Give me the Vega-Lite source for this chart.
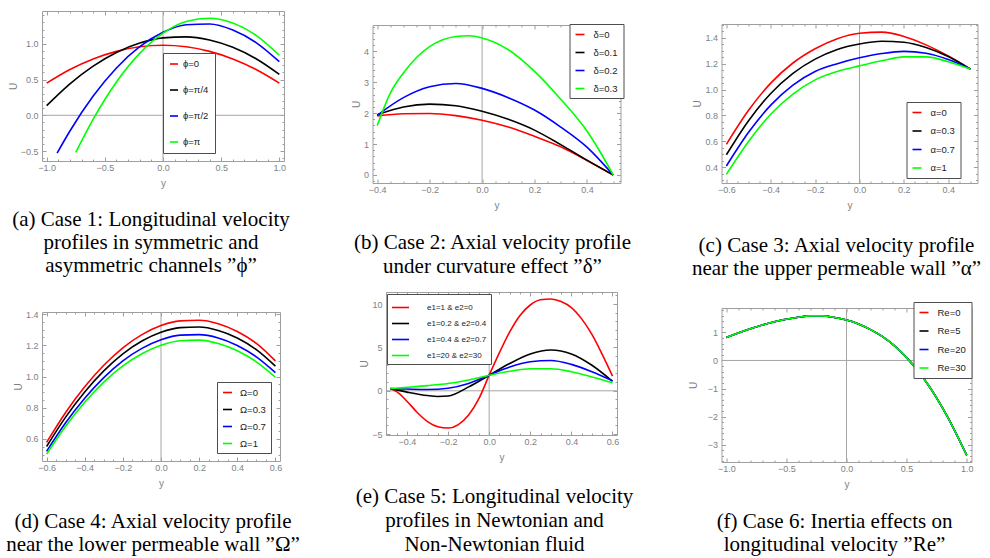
{
"$schema": "https://vega.github.io/schema/vega-lite/v6.json",
"background": "white",
"padding": {"left": 5, "top": 10, "right": 0, "bottom": 0},
"config": {
 "view": {"stroke": "#9e9e9e", "strokeWidth": 1},
 "axis": {"domain": false, "grid": false, "tickColor": "#9e9e9e", "tickWidth": 1, "labelFont": "Liberation Sans", "labelFontSize": 9, "labelColor": "#7f7f7f", "titleFont": "Liberation Sans", "titleFontSize": 10, "titleFontWeight": "normal", "titleColor": "#7f7f7f", "labelFlush": false, "labelOverlap": false, "labelBound": false},
 "axisBottom": {"labelPadding": 6, "titlePadding": 6},
 "axisLeft": {"labelPadding": 8, "titlePadding": 2},
 "legend": {"title": null, "symbolType": "stroke", "symbolStrokeWidth": 2, "strokeColor": "#4d4d4d", "fillColor": "#ffffff", "labelFont": "Liberation Sans", "labelFontSize": 9.5, "labelColor": "#222222", "orient": "none"},
 "title": {"font": "Liberation Serif", "fontSize": 21, "fontWeight": "normal", "color": "#000000", "lineHeight": 24, "orient": "bottom", "anchor": "middle", "frame": "group"},
 "line": {"strokeWidth": 1.6, "interpolate": "monotone"}
},
"datasets": {
 "a": [
  {"s":"ϕ=0","y":-1,"U":0.45},{"s":"ϕ=0","y":-0.8,"U":0.641},{"s":"ϕ=0","y":-0.6,"U":0.789},{"s":"ϕ=0","y":-0.4,"U":0.895},{"s":"ϕ=0","y":-0.2,"U":0.959},{"s":"ϕ=0","y":0,"U":0.98},{"s":"ϕ=0","y":0.2,"U":0.959},{"s":"ϕ=0","y":0.4,"U":0.895},{"s":"ϕ=0","y":0.6,"U":0.789},{"s":"ϕ=0","y":0.8,"U":0.641},{"s":"ϕ=0","y":1,"U":0.45},
  {"s":"ϕ=π/4","y":-1,"U":0.135},{"s":"ϕ=π/4","y":-0.8,"U":0.441},{"s":"ϕ=π/4","y":-0.6,"U":0.689},{"s":"ϕ=π/4","y":-0.4,"U":0.879},{"s":"ϕ=π/4","y":-0.2,"U":1.011},{"s":"ϕ=π/4","y":0,"U":1.084},{"s":"ϕ=π/4","y":0.2,"U":1.098},{"s":"ϕ=π/4","y":0.4,"U":1.054},{"s":"ϕ=π/4","y":0.6,"U":0.952},{"s":"ϕ=π/4","y":0.8,"U":0.792},{"s":"ϕ=π/4","y":1,"U":0.573},
  {"s":"ϕ=π/2","y":-0.91,"U":-0.53},{"s":"ϕ=π/2","y":-0.8,"U":-0.22},{"s":"ϕ=π/2","y":-0.6,"U":0.269},{"s":"ϕ=π/2","y":-0.4,"U":0.663},{"s":"ϕ=π/2","y":-0.2,"U":0.961},{"s":"ϕ=π/2","y":0,"U":1.162},{"s":"ϕ=π/2","y":0.2,"U":1.268},{"s":"ϕ=π/2","y":0.4,"U":1.278},{"s":"ϕ=π/2","y":0.6,"U":1.194},{"s":"ϕ=π/2","y":0.8,"U":1.018},{"s":"ϕ=π/2","y":1,"U":0.75},
  {"s":"ϕ=π","y":-0.75,"U":-0.52},{"s":"ϕ=π","y":-0.6,"U":-0.053},{"s":"ϕ=π","y":-0.4,"U":0.467},{"s":"ϕ=π","y":-0.2,"U":0.867},{"s":"ϕ=π","y":0,"U":1.15},{"s":"ϕ=π","y":0.2,"U":1.314},{"s":"ϕ=π","y":0.4,"U":1.359},{"s":"ϕ=π","y":0.6,"U":1.293},{"s":"ϕ=π","y":0.8,"U":1.12},{"s":"ϕ=π","y":1,"U":0.84}
 ],
 "b": [
  {"s":"δ=0","y":-0.4,"U":1.91},{"s":"δ=0","y":-0.3,"U":1.98},{"s":"δ=0","y":-0.2,"U":1.99},{"s":"δ=0","y":-0.1,"U":1.92},{"s":"δ=0","y":0,"U":1.77},{"s":"δ=0","y":0.1,"U":1.55},{"s":"δ=0","y":0.2,"U":1.25},{"s":"δ=0","y":0.3,"U":0.91},{"s":"δ=0","y":0.4,"U":0.47},{"s":"δ=0","y":0.5,"U":0},
  {"s":"δ=0.1","y":-0.4,"U":1.95},{"s":"δ=0.1","y":-0.3,"U":2.2},{"s":"δ=0.1","y":-0.2,"U":2.29},{"s":"δ=0.1","y":-0.1,"U":2.24},{"s":"δ=0.1","y":0,"U":2.06},{"s":"δ=0.1","y":0.1,"U":1.8},{"s":"δ=0.1","y":0.2,"U":1.45},{"s":"δ=0.1","y":0.3,"U":0.98},{"s":"δ=0.1","y":0.4,"U":0.48},{"s":"δ=0.1","y":0.5,"U":0},
  {"s":"δ=0.2","y":-0.4,"U":1.93},{"s":"δ=0.2","y":-0.3,"U":2.5},{"s":"δ=0.2","y":-0.2,"U":2.85},{"s":"δ=0.2","y":-0.1,"U":2.96},{"s":"δ=0.2","y":0,"U":2.8},{"s":"δ=0.2","y":0.1,"U":2.5},{"s":"δ=0.2","y":0.2,"U":2.1},{"s":"δ=0.2","y":0.3,"U":1.55},{"s":"δ=0.2","y":0.4,"U":0.9},{"s":"δ=0.2","y":0.5,"U":0},
  {"s":"δ=0.3","y":-0.4,"U":1.6},{"s":"δ=0.3","y":-0.35,"U":2.65},{"s":"δ=0.3","y":-0.3,"U":3.3},{"s":"δ=0.3","y":-0.25,"U":3.8},{"s":"δ=0.3","y":-0.2,"U":4.15},{"s":"δ=0.3","y":-0.15,"U":4.37},{"s":"δ=0.3","y":-0.1,"U":4.48},{"s":"δ=0.3","y":-0.05,"U":4.5},{"s":"δ=0.3","y":0,"U":4.43},{"s":"δ=0.3","y":0.1,"U":4.05},{"s":"δ=0.3","y":0.2,"U":3.35},{"s":"δ=0.3","y":0.3,"U":2.45},{"s":"δ=0.3","y":0.4,"U":1.42},{"s":"δ=0.3","y":0.45,"U":0.75},{"s":"δ=0.3","y":0.5,"U":0}
 ],
 "c": [
  {"s":"α=0","y":-0.6,"U":0.577},{"s":"α=0","y":-0.5,"U":0.84},{"s":"α=0","y":-0.4,"U":1.05},{"s":"α=0","y":-0.3,"U":1.205},{"s":"α=0","y":-0.2,"U":1.315},{"s":"α=0","y":-0.1,"U":1.393},{"s":"α=0","y":0,"U":1.435},{"s":"α=0","y":0.1,"U":1.443},{"s":"α=0","y":0.2,"U":1.41},{"s":"α=0","y":0.3,"U":1.345},{"s":"α=0","y":0.4,"U":1.26},{"s":"α=0","y":0.5,"U":1.158},
  {"s":"α=0.3","y":-0.6,"U":0.497},{"s":"α=0.3","y":-0.5,"U":0.76},{"s":"α=0.3","y":-0.4,"U":0.97},{"s":"α=0.3","y":-0.3,"U":1.125},{"s":"α=0.3","y":-0.2,"U":1.235},{"s":"α=0.3","y":-0.1,"U":1.31},{"s":"α=0.3","y":0,"U":1.352},{"s":"α=0.3","y":0.1,"U":1.373},{"s":"α=0.3","y":0.2,"U":1.365},{"s":"α=0.3","y":0.3,"U":1.325},{"s":"α=0.3","y":0.4,"U":1.255},{"s":"α=0.3","y":0.5,"U":1.158},
  {"s":"α=0.7","y":-0.6,"U":0.41},{"s":"α=0.7","y":-0.5,"U":0.67},{"s":"α=0.7","y":-0.4,"U":0.88},{"s":"α=0.7","y":-0.3,"U":1.035},{"s":"α=0.7","y":-0.2,"U":1.14},{"s":"α=0.7","y":-0.1,"U":1.2},{"s":"α=0.7","y":0,"U":1.245},{"s":"α=0.7","y":0.1,"U":1.278},{"s":"α=0.7","y":0.2,"U":1.295},{"s":"α=0.7","y":0.3,"U":1.28},{"s":"α=0.7","y":0.4,"U":1.232},{"s":"α=0.7","y":0.5,"U":1.158},
  {"s":"α=1","y":-0.6,"U":0.346},{"s":"α=1","y":-0.5,"U":0.6},{"s":"α=1","y":-0.4,"U":0.81},{"s":"α=1","y":-0.3,"U":0.965},{"s":"α=1","y":-0.2,"U":1.075},{"s":"α=1","y":-0.1,"U":1.14},{"s":"α=1","y":0,"U":1.183},{"s":"α=1","y":0.1,"U":1.222},{"s":"α=1","y":0.2,"U":1.252},{"s":"α=1","y":0.3,"U":1.252},{"s":"α=1","y":0.4,"U":1.215},{"s":"α=1","y":0.5,"U":1.158}
 ],
 "d": [
  {"s":"Ω=0","y":-0.6,"U":0.578},{"s":"Ω=0","y":-0.5,"U":0.77},{"s":"Ω=0","y":-0.4,"U":0.934},{"s":"Ω=0","y":-0.3,"U":1.072},{"s":"Ω=0","y":-0.2,"U":1.184},{"s":"Ω=0","y":-0.1,"U":1.268},{"s":"Ω=0","y":0,"U":1.326},{"s":"Ω=0","y":0.1,"U":1.356},{"s":"Ω=0","y":0.2,"U":1.36},{"s":"Ω=0","y":0.3,"U":1.338},{"s":"Ω=0","y":0.4,"U":1.288},{"s":"Ω=0","y":0.5,"U":1.212},{"s":"Ω=0","y":0.6,"U":1.1},
  {"s":"Ω=0.3","y":-0.6,"U":0.552},{"s":"Ω=0.3","y":-0.5,"U":0.74},{"s":"Ω=0.3","y":-0.4,"U":0.901},{"s":"Ω=0.3","y":-0.3,"U":1.036},{"s":"Ω=0.3","y":-0.2,"U":1.145},{"s":"Ω=0.3","y":-0.1,"U":1.227},{"s":"Ω=0.3","y":0,"U":1.283},{"s":"Ω=0.3","y":0.1,"U":1.313},{"s":"Ω=0.3","y":0.2,"U":1.317},{"s":"Ω=0.3","y":0.3,"U":1.295},{"s":"Ω=0.3","y":0.4,"U":1.247},{"s":"Ω=0.3","y":0.5,"U":1.172},{"s":"Ω=0.3","y":0.6,"U":1.066},
  {"s":"Ω=0.7","y":-0.6,"U":0.521},{"s":"Ω=0.7","y":-0.5,"U":0.704},{"s":"Ω=0.7","y":-0.4,"U":0.861},{"s":"Ω=0.7","y":-0.3,"U":0.993},{"s":"Ω=0.7","y":-0.2,"U":1.1},{"s":"Ω=0.7","y":-0.1,"U":1.18},{"s":"Ω=0.7","y":0,"U":1.235},{"s":"Ω=0.7","y":0.1,"U":1.265},{"s":"Ω=0.7","y":0.2,"U":1.268},{"s":"Ω=0.7","y":0.3,"U":1.247},{"s":"Ω=0.7","y":0.4,"U":1.199},{"s":"Ω=0.7","y":0.5,"U":1.126},{"s":"Ω=0.7","y":0.6,"U":1.025},
  {"s":"Ω=1","y":-0.6,"U":0.503},{"s":"Ω=1","y":-0.5,"U":0.681},{"s":"Ω=1","y":-0.4,"U":0.835},{"s":"Ω=1","y":-0.3,"U":0.964},{"s":"Ω=1","y":-0.2,"U":1.068},{"s":"Ω=1","y":-0.1,"U":1.146},{"s":"Ω=1","y":0,"U":1.2},{"s":"Ω=1","y":0.1,"U":1.229},{"s":"Ω=1","y":0.2,"U":1.233},{"s":"Ω=1","y":0.3,"U":1.211},{"s":"Ω=1","y":0.4,"U":1.165},{"s":"Ω=1","y":0.5,"U":1.094},{"s":"Ω=1","y":0.6,"U":0.995}
 ],
 "e": [
  {"s":"e1=1 & e2=0","y":-0.48,"U":0.25},{"s":"e1=1 & e2=0","y":-0.45,"U":-0.1},{"s":"e1=1 & e2=0","y":-0.4,"U":-1.2},{"s":"e1=1 & e2=0","y":-0.35,"U":-2.5},{"s":"e1=1 & e2=0","y":-0.3,"U":-3.55},{"s":"e1=1 & e2=0","y":-0.25,"U":-4.15},{"s":"e1=1 & e2=0","y":-0.2,"U":-4.3},{"s":"e1=1 & e2=0","y":-0.15,"U":-3.9},{"s":"e1=1 & e2=0","y":-0.1,"U":-2.8},{"s":"e1=1 & e2=0","y":-0.05,"U":-0.9},{"s":"e1=1 & e2=0","y":0,"U":1.8},{"s":"e1=1 & e2=0","y":0.05,"U":4.4},{"s":"e1=1 & e2=0","y":0.1,"U":6.8},{"s":"e1=1 & e2=0","y":0.15,"U":8.7},{"s":"e1=1 & e2=0","y":0.2,"U":9.9},{"s":"e1=1 & e2=0","y":0.25,"U":10.5},{"s":"e1=1 & e2=0","y":0.3,"U":10.6},{"s":"e1=1 & e2=0","y":0.35,"U":10.3},{"s":"e1=1 & e2=0","y":0.4,"U":9.6},{"s":"e1=1 & e2=0","y":0.45,"U":8.3},{"s":"e1=1 & e2=0","y":0.5,"U":6.5},{"s":"e1=1 & e2=0","y":0.55,"U":4.2},{"s":"e1=1 & e2=0","y":0.6,"U":1.7},
  {"s":"e1=0.2 & e2=0.4","y":-0.48,"U":0.25},{"s":"e1=0.2 & e2=0.4","y":-0.4,"U":-0.15},{"s":"e1=0.2 & e2=0.4","y":-0.3,"U":-0.55},{"s":"e1=0.2 & e2=0.4","y":-0.25,"U":-0.65},{"s":"e1=0.2 & e2=0.4","y":-0.2,"U":-0.6},{"s":"e1=0.2 & e2=0.4","y":-0.1,"U":0.45},{"s":"e1=0.2 & e2=0.4","y":0,"U":1.8},{"s":"e1=0.2 & e2=0.4","y":0.1,"U":3.15},{"s":"e1=0.2 & e2=0.4","y":0.2,"U":4.25},{"s":"e1=0.2 & e2=0.4","y":0.3,"U":4.7},{"s":"e1=0.2 & e2=0.4","y":0.4,"U":4.25},{"s":"e1=0.2 & e2=0.4","y":0.5,"U":2.95},{"s":"e1=0.2 & e2=0.4","y":0.6,"U":1.1},
  {"s":"e1=0.4 & e2=0.7","y":-0.48,"U":0.25},{"s":"e1=0.4 & e2=0.7","y":-0.4,"U":0.2},{"s":"e1=0.4 & e2=0.7","y":-0.3,"U":0.15},{"s":"e1=0.4 & e2=0.7","y":-0.2,"U":0.3},{"s":"e1=0.4 & e2=0.7","y":-0.1,"U":0.85},{"s":"e1=0.4 & e2=0.7","y":0,"U":1.8},{"s":"e1=0.4 & e2=0.7","y":0.1,"U":2.75},{"s":"e1=0.4 & e2=0.7","y":0.2,"U":3.35},{"s":"e1=0.4 & e2=0.7","y":0.3,"U":3.5},{"s":"e1=0.4 & e2=0.7","y":0.4,"U":3.05},{"s":"e1=0.4 & e2=0.7","y":0.5,"U":2.2},{"s":"e1=0.4 & e2=0.7","y":0.6,"U":1.15},
  {"s":"e1=20 & e2=30","y":-0.48,"U":0.25},{"s":"e1=20 & e2=30","y":-0.4,"U":0.4},{"s":"e1=20 & e2=30","y":-0.3,"U":0.6},{"s":"e1=20 & e2=30","y":-0.2,"U":0.85},{"s":"e1=20 & e2=30","y":-0.1,"U":1.25},{"s":"e1=20 & e2=30","y":0,"U":1.8},{"s":"e1=20 & e2=30","y":0.1,"U":2.25},{"s":"e1=20 & e2=30","y":0.2,"U":2.55},{"s":"e1=20 & e2=30","y":0.3,"U":2.55},{"s":"e1=20 & e2=30","y":0.4,"U":2.2},{"s":"e1=20 & e2=30","y":0.5,"U":1.6},{"s":"e1=20 & e2=30","y":0.6,"U":0.93}
 ],
 "f": [
  {"s":"Re=0","y":-1,"U":0.82},{"s":"Re=0","y":-0.8,"U":1.13},{"s":"Re=0","y":-0.6,"U":1.38},{"s":"Re=0","y":-0.4,"U":1.54},{"s":"Re=0","y":-0.3,"U":1.59},{"s":"Re=0","y":-0.2,"U":1.59},{"s":"Re=0","y":-0.1,"U":1.53},{"s":"Re=0","y":0,"U":1.44},{"s":"Re=0","y":0.1,"U":1.3},{"s":"Re=0","y":0.2,"U":1.1},{"s":"Re=0","y":0.3,"U":0.85},{"s":"Re=0","y":0.4,"U":0.52},{"s":"Re=0","y":0.5,"U":0.1},{"s":"Re=0","y":0.6,"U":-0.4},{"s":"Re=0","y":0.7,"U":-1.0},{"s":"Re=0","y":0.8,"U":-1.7},{"s":"Re=0","y":0.9,"U":-2.5},{"s":"Re=0","y":1,"U":-3.38},
  {"s":"Re=5","y":-1,"U":0.82},{"s":"Re=5","y":-0.8,"U":1.13},{"s":"Re=5","y":-0.6,"U":1.38},{"s":"Re=5","y":-0.4,"U":1.54},{"s":"Re=5","y":-0.3,"U":1.59},{"s":"Re=5","y":-0.2,"U":1.59},{"s":"Re=5","y":-0.1,"U":1.53},{"s":"Re=5","y":0,"U":1.44},{"s":"Re=5","y":0.1,"U":1.3},{"s":"Re=5","y":0.2,"U":1.1},{"s":"Re=5","y":0.3,"U":0.85},{"s":"Re=5","y":0.4,"U":0.52},{"s":"Re=5","y":0.5,"U":0.1},{"s":"Re=5","y":0.6,"U":-0.4},{"s":"Re=5","y":0.7,"U":-1.0},{"s":"Re=5","y":0.8,"U":-1.7},{"s":"Re=5","y":0.9,"U":-2.5},{"s":"Re=5","y":1,"U":-3.38},
  {"s":"Re=20","y":-1,"U":0.82},{"s":"Re=20","y":-0.8,"U":1.13},{"s":"Re=20","y":-0.6,"U":1.38},{"s":"Re=20","y":-0.4,"U":1.54},{"s":"Re=20","y":-0.3,"U":1.59},{"s":"Re=20","y":-0.2,"U":1.59},{"s":"Re=20","y":-0.1,"U":1.53},{"s":"Re=20","y":0,"U":1.44},{"s":"Re=20","y":0.1,"U":1.3},{"s":"Re=20","y":0.2,"U":1.1},{"s":"Re=20","y":0.3,"U":0.85},{"s":"Re=20","y":0.4,"U":0.52},{"s":"Re=20","y":0.5,"U":0.1},{"s":"Re=20","y":0.6,"U":-0.4},{"s":"Re=20","y":0.7,"U":-1.0},{"s":"Re=20","y":0.8,"U":-1.7},{"s":"Re=20","y":0.9,"U":-2.5},{"s":"Re=20","y":1,"U":-3.38},
  {"s":"Re=30","y":-1,"U":0.82},{"s":"Re=30","y":-0.8,"U":1.13},{"s":"Re=30","y":-0.6,"U":1.38},{"s":"Re=30","y":-0.4,"U":1.54},{"s":"Re=30","y":-0.3,"U":1.59},{"s":"Re=30","y":-0.2,"U":1.59},{"s":"Re=30","y":-0.1,"U":1.53},{"s":"Re=30","y":0,"U":1.44},{"s":"Re=30","y":0.1,"U":1.3},{"s":"Re=30","y":0.2,"U":1.1},{"s":"Re=30","y":0.3,"U":0.85},{"s":"Re=30","y":0.4,"U":0.52},{"s":"Re=30","y":0.5,"U":0.1},{"s":"Re=30","y":0.6,"U":-0.4},{"s":"Re=30","y":0.7,"U":-1.0},{"s":"Re=30","y":0.8,"U":-1.7},{"s":"Re=30","y":0.9,"U":-2.5},{"s":"Re=30","y":1,"U":-3.38}
 ]
},
"resolve": {"scale": {"color": "independent"}, "legend": {"color": "independent"}},
"spacing": 48.5,
"hconcat": [
 {"spacing": 32, "resolve": {"scale": {"color": "independent"}, "legend": {"color": "independent"}}, "vconcat": [
  {"width": 242, "height": 150,
   "title": {"text": ["(a) Case 1: Longitudinal velocity", "profiles in symmetric and", "asymmetric channels \u201dϕ\u201d"], "offset": 21, "dx": -12, "lineHeight": 23},
   "resolve": {"axis": {"x": "independent", "y": "independent"}},
   "layer": [
    {"data": {"values": [{}]}, "mark": {"type": "rule", "color": "#a6a6a6", "strokeWidth": 1},
     "encoding": {
      "x": {"datum": 0, "type": "quantitative", "scale": {"domain": [-1.04, 1.04], "nice": false, "zero": false}, "axis": {"orient": "top", "values": [-1,-0.5,0,0.5,1], "labels": false, "tickSize": -4, "title": null}},
      "y": {"datum": -0.64, "type": "quantitative", "scale": {"domain": [-0.64, 1.46], "nice": false, "zero": false}, "axis": {"orient": "right", "values": [-0.5,0,0.5,1], "labels": false, "tickSize": -4, "title": null}},
      "y2": {"datum": 1.46}}},
    {"data": {"values": [{}]}, "mark": {"type": "rule", "color": "#a6a6a6", "strokeWidth": 1},
     "encoding": {
      "y": {"datum": 0, "type": "quantitative", "scale": {"domain": [-0.64, 1.46], "nice": false, "zero": false}, "axis": {"orient": "left", "values": [-0.6,-0.4,-0.3,-0.2,-0.1,0.1,0.2,0.3,0.4,0.6,0.7,0.8,0.9,1.1,1.2,1.3,1.4], "labels": false, "tickSize": -2, "title": null}},
      "x": {"datum": -1.04, "type": "quantitative", "scale": {"domain": [-1.04, 1.04], "nice": false, "zero": false}, "axis": {"orient": "bottom", "values": [-0.9,-0.8,-0.7,-0.6,-0.4,-0.3,-0.2,-0.1,0.1,0.2,0.3,0.4,0.6,0.7,0.8,0.9], "labels": false, "tickSize": -2, "title": null}},
      "x2": {"datum": 1.04}}},
    {"data": {"values": [{}]}, "mark": {"type": "rule", "strokeOpacity": 0},
     "encoding": {
      "x": {"datum": 0, "type": "quantitative", "scale": {"domain": [-1.04, 1.04], "nice": false, "zero": false}, "axis": {"orient": "top", "values": [-0.9,-0.8,-0.7,-0.6,-0.4,-0.3,-0.2,-0.1,0.1,0.2,0.3,0.4,0.6,0.7,0.8,0.9], "labels": false, "tickSize": -2, "title": null}},
      "y": {"datum": 0, "type": "quantitative", "scale": {"domain": [-0.64, 1.46], "nice": false, "zero": false}, "axis": {"orient": "right", "values": [-0.6,-0.4,-0.3,-0.2,-0.1,0.1,0.2,0.3,0.4,0.6,0.7,0.8,0.9,1.1,1.2,1.3,1.4], "labels": false, "tickSize": -2, "title": null}},
      "y2": {"datum": 1}}},
    {"data": {"name": "a"}, "mark": {"type": "line"},
     "encoding": {
      "x": {"field": "y", "type": "quantitative", "scale": {"domain": [-1.04, 1.04], "nice": false, "zero": false}, "axis": {"orient": "bottom", "values": [-1,-0.5,0,0.5,1], "format": ".1f", "tickSize": -4, "title": "y"}},
      "y": {"field": "U", "type": "quantitative", "scale": {"domain": [-0.64, 1.46], "nice": false, "zero": false}, "axis": {"orient": "left", "values": [-0.5,0,0.5,1], "format": ".1f", "tickSize": -4, "title": "U"}},
      "color": {"field": "s", "type": "nominal", "scale": {"domain": ["ϕ=0","ϕ=π/4","ϕ=π/2","ϕ=π"], "range": ["#ff0000","#000000","#0000ff","#00ff00"]},
       "legend": {"legendX": 121, "legendY": 42, "padding": 6, "rowPadding": 16, "symbolSize": 64, "labelOffset": 4}}}}
   ]},
  {"width": 238, "height": 149,
   "title": {"text": ["(d) Case 4: Axial velocity profile", "near the lower permeable wall \u201dΩ\u201d"], "offset": 23, "dx": -8, "lineHeight": 23},
   "resolve": {"axis": {"x": "independent", "y": "independent"}},
   "layer": [
    {"data": {"values": [{}]}, "mark": {"type": "rule", "color": "#a6a6a6", "strokeWidth": 1},
     "encoding": {
      "x": {"datum": 0, "type": "quantitative", "scale": {"domain": [-0.624, 0.624], "nice": false, "zero": false}, "axis": {"orient": "top", "values": [-0.6,-0.4,-0.2,0,0.2,0.4,0.6], "labels": false, "tickSize": -4, "title": null}},
      "y": {"datum": 0.459, "type": "quantitative", "scale": {"domain": [0.459, 1.413], "nice": false, "zero": false}, "axis": {"orient": "right", "values": [0.6,0.8,1.0,1.2,1.4], "labels": false, "tickSize": -4, "title": null}},
      "y2": {"datum": 1.413}}},
    {"data": {"values": [{}]}, "mark": {"type": "rule", "strokeOpacity": 0},
     "encoding": {
      "y": {"datum": 1, "type": "quantitative", "scale": {"domain": [0.459, 1.413], "nice": false, "zero": false}, "axis": {"orient": "left", "values": [0.5,0.55,0.65,0.7,0.75,0.85,0.9,0.95,1.05,1.1,1.15,1.25,1.3,1.35], "labels": false, "tickSize": -2, "title": null}},
      "x": {"datum": -0.624, "type": "quantitative", "scale": {"domain": [-0.624, 0.624], "nice": false, "zero": false}, "axis": {"orient": "bottom", "values": [-0.55,-0.5,-0.45,-0.35,-0.3,-0.25,-0.15,-0.1,-0.05,0.05,0.1,0.15,0.25,0.3,0.35,0.45,0.5,0.55], "labels": false, "tickSize": -2, "title": null}},
      "x2": {"datum": 0.624}}},
    {"data": {"values": [{}]}, "mark": {"type": "rule", "strokeOpacity": 0},
     "encoding": {
      "x": {"datum": 0, "type": "quantitative", "scale": {"domain": [-0.624, 0.624], "nice": false, "zero": false}, "axis": {"orient": "top", "values": [-0.55,-0.5,-0.45,-0.35,-0.3,-0.25,-0.15,-0.1,-0.05,0.05,0.1,0.15,0.25,0.3,0.35,0.45,0.5,0.55], "labels": false, "tickSize": -2, "title": null}},
      "y": {"datum": 0.6, "type": "quantitative", "scale": {"domain": [0.459, 1.413], "nice": false, "zero": false}, "axis": {"orient": "right", "values": [0.5,0.55,0.65,0.7,0.75,0.85,0.9,0.95,1.05,1.1,1.15,1.25,1.3,1.35], "labels": false, "tickSize": -2, "title": null}},
      "y2": {"datum": 1}}},
    {"data": {"name": "d"}, "mark": {"type": "line"},
     "encoding": {
      "x": {"field": "y", "type": "quantitative", "scale": {"domain": [-0.624, 0.624], "nice": false, "zero": false}, "axis": {"orient": "bottom", "values": [-0.6,-0.4,-0.2,0,0.2,0.4,0.6], "format": ".1f", "tickSize": -4, "title": "y"}},
      "y": {"field": "U", "type": "quantitative", "scale": {"domain": [0.459, 1.413], "nice": false, "zero": false}, "axis": {"orient": "left", "values": [0.6,0.8,1.0,1.2,1.4], "format": ".1f", "tickSize": -4, "title": "U"}},
      "color": {"field": "s", "type": "nominal", "scale": {"domain": ["Ω=0","Ω=0.3","Ω=0.7","Ω=1"], "range": ["#ff0000","#000000","#0000ff","#00ff00"]},
       "legend": {"legendX": 175, "legendY": 70, "padding": 5, "rowPadding": 7, "symbolSize": 81, "labelOffset": 7}}}}
   ]}
 ]},
 {"spacing": 53, "resolve": {"scale": {"color": "independent"}, "legend": {"color": "independent"}}, "hconcat": [
  {"spacing": 13, "resolve": {"scale": {"color": "independent"}, "legend": {"color": "independent"}}, "vconcat": [
   {"spacing": 11, "resolve": {"scale": {"color": "independent"}, "legend": {"color": "independent"}}, "vconcat": [
    {"width": 1, "height": 1, "view": {"stroke": null}, "data": {"values": []}, "mark": {"type": "point", "opacity": 0}},
    {"spacing": 0, "resolve": {"scale": {"color": "independent"}, "legend": {"color": "independent"}}, "hconcat": [
     {"width": 1, "height": 1, "view": {"stroke": null}, "data": {"values": []}, "mark": {"type": "point", "opacity": 0}},
     {"width": 248, "height": 158,
      "title": {"text": ["(b) Case 2: Axial velocity profile", "under curvature effect \u201dδ\u201d"], "offset": 22, "dx": -4},
      "resolve": {"axis": {"x": "independent", "y": "independent"}},
      "layer": [
       {"data": {"values": [{}]}, "mark": {"type": "rule", "color": "#a6a6a6", "strokeWidth": 1},
        "encoding": {
         "x": {"datum": 0, "type": "quantitative", "scale": {"domain": [-0.418, 0.528], "nice": false, "zero": false}, "axis": {"orient": "top", "values": [-0.4,-0.2,0,0.2,0.4], "labels": false, "tickSize": -4, "title": null}},
         "y": {"datum": -0.26, "type": "quantitative", "scale": {"domain": [-0.26, 4.85], "nice": false, "zero": false}, "axis": {"orient": "right", "values": [0,1,2,3,4], "labels": false, "tickSize": -4, "title": null}},
         "y2": {"datum": 4.85}}},
       {"data": {"values": [{}]}, "mark": {"type": "rule", "strokeOpacity": 0},
        "encoding": {
         "y": {"datum": 0, "type": "quantitative", "scale": {"domain": [-0.26, 4.85], "nice": false, "zero": false}, "axis": {"orient": "left", "values": [-0.2,0.2,0.4,0.6,0.8,1.2,1.4,1.6,1.8,2.2,2.4,2.6,2.8,3.2,3.4,3.6,3.8,4.2,4.4,4.6,4.8], "labels": false, "tickSize": -2, "title": null}},
         "x": {"datum": -0.418, "type": "quantitative", "scale": {"domain": [-0.418, 0.528], "nice": false, "zero": false}, "axis": {"orient": "bottom", "values": [-0.35,-0.3,-0.25,-0.15,-0.1,-0.05,0.05,0.1,0.15,0.25,0.3,0.35,0.45,0.5], "labels": false, "tickSize": -2, "title": null}},
         "x2": {"datum": 0.528}}},
       {"data": {"values": [{}]}, "mark": {"type": "rule", "strokeOpacity": 0},
        "encoding": {
         "x": {"datum": 0, "type": "quantitative", "scale": {"domain": [-0.418, 0.528], "nice": false, "zero": false}, "axis": {"orient": "top", "values": [-0.35,-0.3,-0.25,-0.15,-0.1,-0.05,0.05,0.1,0.15,0.25,0.3,0.35,0.45,0.5], "labels": false, "tickSize": -2, "title": null}},
         "y": {"datum": 0, "type": "quantitative", "scale": {"domain": [-0.26, 4.85], "nice": false, "zero": false}, "axis": {"orient": "right", "values": [-0.2,0.2,0.4,0.6,0.8,1.2,1.4,1.6,1.8,2.2,2.4,2.6,2.8,3.2,3.4,3.6,3.8,4.2,4.4,4.6,4.8], "labels": false, "tickSize": -2, "title": null}},
         "y2": {"datum": 1}}},
       {"data": {"name": "b"}, "mark": {"type": "line"},
        "encoding": {
         "x": {"field": "y", "type": "quantitative", "scale": {"domain": [-0.418, 0.528], "nice": false, "zero": false}, "axis": {"orient": "bottom", "values": [-0.4,-0.2,0,0.2,0.4], "format": ".1f", "tickSize": -4, "title": "y"}},
         "y": {"field": "U", "type": "quantitative", "scale": {"domain": [-0.26, 4.85], "nice": false, "zero": false}, "axis": {"orient": "left", "values": [0,1,2,3,4], "format": "d", "tickSize": -4, "title": "U"}},
         "color": {"field": "s", "type": "nominal", "scale": {"domain": ["δ=0","δ=0.1","δ=0.2","δ=0.3"], "range": ["#ff0000","#000000","#0000ff","#00ff00"]},
          "legend": {"legendX": 197, "legendY": -1, "padding": 5, "rowPadding": 8, "symbolSize": 81, "labelOffset": 8}}}}
      ]}
    ]}
   ]},
   {"spacing": 4.5, "resolve": {"scale": {"color": "independent"}, "legend": {"color": "independent"}}, "hconcat": [
    {"width": 1, "height": 1, "view": {"stroke": null}, "data": {"values": []}, "mark": {"type": "point", "opacity": 0}},
    {"width": 231, "height": 143,
     "title": {"text": ["(e) Case 5: Longitudinal velocity", "profiles in Newtonian and", "Non-Newtonian fluid"], "offset": 24, "dx": -7},
     "resolve": {"axis": {"x": "independent", "y": "independent"}},
     "layer": [
      {"data": {"values": [{}]}, "mark": {"type": "rule", "color": "#a6a6a6", "strokeWidth": 1},
       "encoding": {
        "x": {"datum": 0, "type": "quantitative", "scale": {"domain": [-0.502, 0.622], "nice": false, "zero": false}, "axis": {"orient": "top", "values": [-0.4,-0.2,0,0.2,0.4,0.6], "labels": false, "tickSize": -4, "title": null}},
        "y": {"datum": -5.1, "type": "quantitative", "scale": {"domain": [-5.1, 11.4], "nice": false, "zero": false}, "axis": {"orient": "right", "values": [-5,0,5,10], "labels": false, "tickSize": -4, "title": null}},
        "y2": {"datum": 11.4}}},
      {"data": {"values": [{}]}, "mark": {"type": "rule", "color": "#a6a6a6", "strokeWidth": 1},
       "encoding": {
        "y": {"datum": 0, "type": "quantitative", "scale": {"domain": [-5.1, 11.4], "nice": false, "zero": false}, "axis": {"orient": "left", "values": [-4,-3,-2,-1,1,2,3,4,6,7,8,9,11], "labels": false, "tickSize": -2, "title": null}},
        "x": {"datum": -0.502, "type": "quantitative", "scale": {"domain": [-0.502, 0.622], "nice": false, "zero": false}, "axis": {"orient": "bottom", "values": [-0.5,-0.45,-0.35,-0.3,-0.25,-0.15,-0.1,-0.05,0.05,0.1,0.15,0.25,0.3,0.35,0.45,0.5,0.55], "labels": false, "tickSize": -2, "title": null}},
        "x2": {"datum": 0.622}}},
      {"data": {"values": [{}]}, "mark": {"type": "rule", "strokeOpacity": 0},
       "encoding": {
        "x": {"datum": 0, "type": "quantitative", "scale": {"domain": [-0.502, 0.622], "nice": false, "zero": false}, "axis": {"orient": "top", "values": [-0.5,-0.45,-0.35,-0.3,-0.25,-0.15,-0.1,-0.05,0.05,0.1,0.15,0.25,0.3,0.35,0.45,0.5,0.55], "labels": false, "tickSize": -2, "title": null}},
        "y": {"datum": 0, "type": "quantitative", "scale": {"domain": [-5.1, 11.4], "nice": false, "zero": false}, "axis": {"orient": "right", "values": [-4,-3,-2,-1,1,2,3,4,6,7,8,9,11], "labels": false, "tickSize": -2, "title": null}},
        "y2": {"datum": 1}}},
      {"data": {"name": "e"}, "mark": {"type": "line"},
       "encoding": {
        "x": {"field": "y", "type": "quantitative", "scale": {"domain": [-0.502, 0.622], "nice": false, "zero": false}, "axis": {"orient": "bottom", "values": [-0.4,-0.2,0,0.2,0.4,0.6], "format": ".1f", "tickSize": -4, "title": "y"}},
        "y": {"field": "U", "type": "quantitative", "scale": {"domain": [-5.1, 11.4], "nice": false, "zero": false}, "axis": {"orient": "left", "values": [-5,0,5,10], "format": "d", "tickSize": -4, "title": "U"}},
        "color": {"field": "s", "type": "nominal", "scale": {"domain": ["e1=1 & e2=0","e1=0.2 & e2=0.4","e1=0.4 & e2=0.7","e1=20 & e2=30"], "range": ["#ff0000","#000000","#0000ff","#00ff00"]},
         "legend": {"legendX": 1, "legendY": 2, "padding": 4, "rowPadding": 2, "symbolSize": 289, "labelOffset": 17, "labelFontSize": 8}}}}
     ]}
   ]}
  ]},
  {"spacing": 21, "resolve": {"scale": {"color": "independent"}, "legend": {"color": "independent"}}, "vconcat": [
   {"spacing": 11, "resolve": {"scale": {"color": "independent"}, "legend": {"color": "independent"}}, "vconcat": [
    {"width": 1, "height": 1, "view": {"stroke": null}, "data": {"values": []}, "mark": {"type": "point", "opacity": 0}},
    {"width": 256, "height": 159,
     "title": {"text": ["(c) Case 3: Axial velocity profile", "near the upper permeable wall \u201dα\u201d"], "offset": 25, "dx": -13, "lineHeight": 23},
     "resolve": {"axis": {"x": "independent", "y": "independent"}},
     "layer": [
      {"data": {"values": [{}]}, "mark": {"type": "rule", "color": "#a6a6a6", "strokeWidth": 1},
       "encoding": {
        "x": {"datum": 0, "type": "quantitative", "scale": {"domain": [-0.622, 0.532], "nice": false, "zero": false}, "axis": {"orient": "top", "values": [-0.6,-0.4,-0.2,0,0.2,0.4], "labels": false, "tickSize": -4, "title": null}},
        "y": {"datum": 0.279, "type": "quantitative", "scale": {"domain": [0.279, 1.506], "nice": false, "zero": false}, "axis": {"orient": "right", "values": [0.4,0.6,0.8,1.0,1.2,1.4], "labels": false, "tickSize": -4, "title": null}},
        "y2": {"datum": 1.506}}},
      {"data": {"values": [{}]}, "mark": {"type": "rule", "strokeOpacity": 0},
       "encoding": {
        "y": {"datum": 1, "type": "quantitative", "scale": {"domain": [0.279, 1.506], "nice": false, "zero": false}, "axis": {"orient": "left", "values": [0.3,0.35,0.45,0.5,0.55,0.65,0.7,0.75,0.85,0.9,0.95,1.05,1.1,1.15,1.25,1.3,1.35,1.45,1.5], "labels": false, "tickSize": -2, "title": null}},
        "x": {"datum": -0.622, "type": "quantitative", "scale": {"domain": [-0.622, 0.532], "nice": false, "zero": false}, "axis": {"orient": "bottom", "values": [-0.55,-0.5,-0.45,-0.35,-0.3,-0.25,-0.15,-0.1,-0.05,0.05,0.1,0.15,0.25,0.3,0.35,0.45,0.5], "labels": false, "tickSize": -2, "title": null}},
        "x2": {"datum": 0.532}}},
      {"data": {"values": [{}]}, "mark": {"type": "rule", "strokeOpacity": 0},
       "encoding": {
        "x": {"datum": 0, "type": "quantitative", "scale": {"domain": [-0.622, 0.532], "nice": false, "zero": false}, "axis": {"orient": "top", "values": [-0.55,-0.5,-0.45,-0.35,-0.3,-0.25,-0.15,-0.1,-0.05,0.05,0.1,0.15,0.25,0.3,0.35,0.45,0.5], "labels": false, "tickSize": -2, "title": null}},
        "y": {"datum": 0.6, "type": "quantitative", "scale": {"domain": [0.279, 1.506], "nice": false, "zero": false}, "axis": {"orient": "right", "values": [0.3,0.35,0.45,0.5,0.55,0.65,0.7,0.75,0.85,0.9,0.95,1.05,1.1,1.15,1.25,1.3,1.35,1.45,1.5], "labels": false, "tickSize": -2, "title": null}},
        "y2": {"datum": 1}}},
      {"data": {"name": "c"}, "mark": {"type": "line"},
       "encoding": {
        "x": {"field": "y", "type": "quantitative", "scale": {"domain": [-0.622, 0.532], "nice": false, "zero": false}, "axis": {"orient": "bottom", "values": [-0.6,-0.4,-0.2,0,0.2,0.4], "format": ".1f", "tickSize": -4, "title": "y"}},
        "y": {"field": "U", "type": "quantitative", "scale": {"domain": [0.279, 1.506], "nice": false, "zero": false}, "axis": {"orient": "left", "values": [0.4,0.6,0.8,1.0,1.2,1.4], "format": ".1f", "tickSize": -4, "title": "U"}},
        "color": {"field": "s", "type": "nominal", "scale": {"domain": ["α=0","α=0.3","α=0.7","α=1"], "range": ["#ff0000","#000000","#0000ff","#00ff00"]},
         "legend": {"legendX": 185, "legendY": 78, "padding": 5, "rowPadding": 8.5, "symbolSize": 81, "labelOffset": 8}}}}
     ]}
   ]},
   {"width": 250, "height": 154,
    "title": {"text": ["(f) Case 6: Inertia effects on", "longitudinal velocity \u201dRe\u201d"], "offset": 22, "dx": -12, "lineHeight": 23},
    "resolve": {"axis": {"x": "independent", "y": "independent"}},
    "layer": [
     {"data": {"values": [{}]}, "mark": {"type": "rule", "color": "#a6a6a6", "strokeWidth": 1},
      "encoding": {
       "x": {"datum": 0, "type": "quantitative", "scale": {"domain": [-1.04, 1.04], "nice": false, "zero": false}, "axis": {"orient": "top", "values": [-1,-0.5,0,0.5,1], "labels": false, "tickSize": -4, "title": null}},
       "y": {"datum": -3.62, "type": "quantitative", "scale": {"domain": [-3.62, 1.87], "nice": false, "zero": false}, "axis": {"orient": "right", "values": [-3,-2,-1,0,1], "labels": false, "tickSize": -4, "title": null}},
       "y2": {"datum": 1.87}}},
     {"data": {"values": [{}]}, "mark": {"type": "rule", "color": "#a6a6a6", "strokeWidth": 1},
      "encoding": {
       "y": {"datum": 0, "type": "quantitative", "scale": {"domain": [-3.62, 1.87], "nice": false, "zero": false}, "axis": {"orient": "left", "values": [-3.6,-3.4,-3.2,-2.8,-2.6,-2.4,-2.2,-1.8,-1.6,-1.4,-1.2,-0.8,-0.6,-0.4,-0.2,0.2,0.4,0.6,0.8,1.2,1.4,1.6,1.8], "labels": false, "tickSize": -2, "title": null}},
       "x": {"datum": -1.04, "type": "quantitative", "scale": {"domain": [-1.04, 1.04], "nice": false, "zero": false}, "axis": {"orient": "bottom", "values": [-0.9,-0.8,-0.7,-0.6,-0.4,-0.3,-0.2,-0.1,0.1,0.2,0.3,0.4,0.6,0.7,0.8,0.9], "labels": false, "tickSize": -2, "title": null}},
       "x2": {"datum": 1.04}}},
     {"data": {"values": [{}]}, "mark": {"type": "rule", "strokeOpacity": 0},
      "encoding": {
       "x": {"datum": 0, "type": "quantitative", "scale": {"domain": [-1.04, 1.04], "nice": false, "zero": false}, "axis": {"orient": "top", "values": [-0.9,-0.8,-0.7,-0.6,-0.4,-0.3,-0.2,-0.1,0.1,0.2,0.3,0.4,0.6,0.7,0.8,0.9], "labels": false, "tickSize": -2, "title": null}},
       "y": {"datum": 0, "type": "quantitative", "scale": {"domain": [-3.62, 1.87], "nice": false, "zero": false}, "axis": {"orient": "right", "values": [-3.6,-3.4,-3.2,-2.8,-2.6,-2.4,-2.2,-1.8,-1.6,-1.4,-1.2,-0.8,-0.6,-0.4,-0.2,0.2,0.4,0.6,0.8,1.2,1.4,1.6,1.8], "labels": false, "tickSize": -2, "title": null}},
       "y2": {"datum": 1}}},
     {"data": {"name": "f"}, "mark": {"type": "line"},
      "encoding": {
       "x": {"field": "y", "type": "quantitative", "scale": {"domain": [-1.04, 1.04], "nice": false, "zero": false}, "axis": {"orient": "bottom", "values": [-1,-0.5,0,0.5,1], "format": ".1f", "tickSize": -4, "title": "y"}},
       "y": {"field": "U", "type": "quantitative", "scale": {"domain": [-3.62, 1.87], "nice": false, "zero": false}, "axis": {"orient": "left", "values": [-3,-2,-1,0,1], "format": "d", "tickSize": -4, "title": "U", "titlePadding": 9}},
       "color": {"field": "s", "type": "nominal", "scale": {"domain": ["Re=0","Re=5","Re=20","Re=30"], "range": ["#ff0000","#000000","#0000ff","#00ff00"]},
        "legend": {"legendX": 192, "legendY": -6, "padding": 5, "rowPadding": 8.5, "symbolSize": 81, "labelOffset": 8}}}}
    ]}
  ]}
 ]}
]
}
